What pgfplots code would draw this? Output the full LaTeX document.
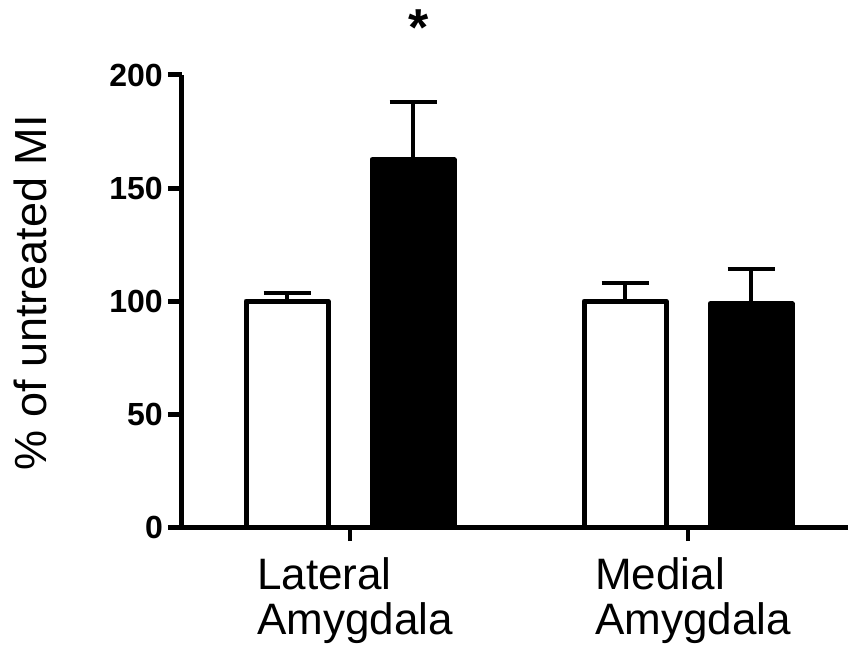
\documentclass[border=0pt]{standalone}
\usepackage{pgfplots}
\pgfplotsset{compat=1.18}
\usepackage{fontspec}
\setmainfont{Liberation Sans}

% Lateral / medial amygdala, control (open) vs treated (filled), mean + SEM
\pgfplotstableread{
x  y      err
0  100.0  3.6
1  100.0  7.8
}\controldata
\pgfplotstableread{
x  y      err
0  162.5  25.4
1  98.8   15.4
}\treateddata

\begin{document}
\begin{tikzpicture}[x=1pt,y=1pt]
\useasboundingbox (-182,-124) rectangle (666,527);
\begin{axis}[
  at={(0,0)}, anchor=south west,
  scale only axis, width=666pt, height=452pt,
  xmin=-0.497, xmax=1.473, ymin=0, ymax=200,
  axis x line*=bottom, axis y line*=left,
  axis line style={line width=5pt, -, black},
  clip=false,
  ybar, bar width=82pt,
  xtick={0,1},
  xticklabels={Lateral\\Amygdala, Medial\\Amygdala},
  ytick={0,50,100,150,200},
  tick align=outside,
  major tick length=14pt,
  xtick style={line width=4pt, black},
  ytick style={line width=5pt, black},
  /pgf/number format/assume math mode=true,
  yticklabel style={font=\fontsize{32}{36}\selectfont\bfseries, inner sep=0pt, xshift=-5pt},
  xticklabel style={font=\fontsize{44}{45}\selectfont, align=left, inner sep=0pt, yshift=-16pt, xshift=5pt},
  ylabel={\% of untreated MI},
  ylabel style={font=\fontsize{45}{50}\selectfont, at={(axis description cs:-0.227,0.518)}, anchor=center},
  error bars/y dir=plus,
  error bars/y explicit,
  error bars/error bar style={line width=4pt, black},
  error bars/error mark options={rotate=90, mark size=23.5pt, line width=4pt, black},
]
\addplot[draw=black, fill=white, line width=5pt, line join=round, bar shift=-63pt]
  table[x=x, y=y, y error=err] {\controldata};
\addplot[draw=black, fill=black, line width=5pt, line join=round, bar shift=63pt]
  table[x=x, y=y, y error=err] {\treateddata};
\node[font=\fontsize{52}{52}\selectfont\bfseries, inner sep=0pt] at (axis cs:0.204,221) {*};
\end{axis}
\end{tikzpicture}
\end{document}
